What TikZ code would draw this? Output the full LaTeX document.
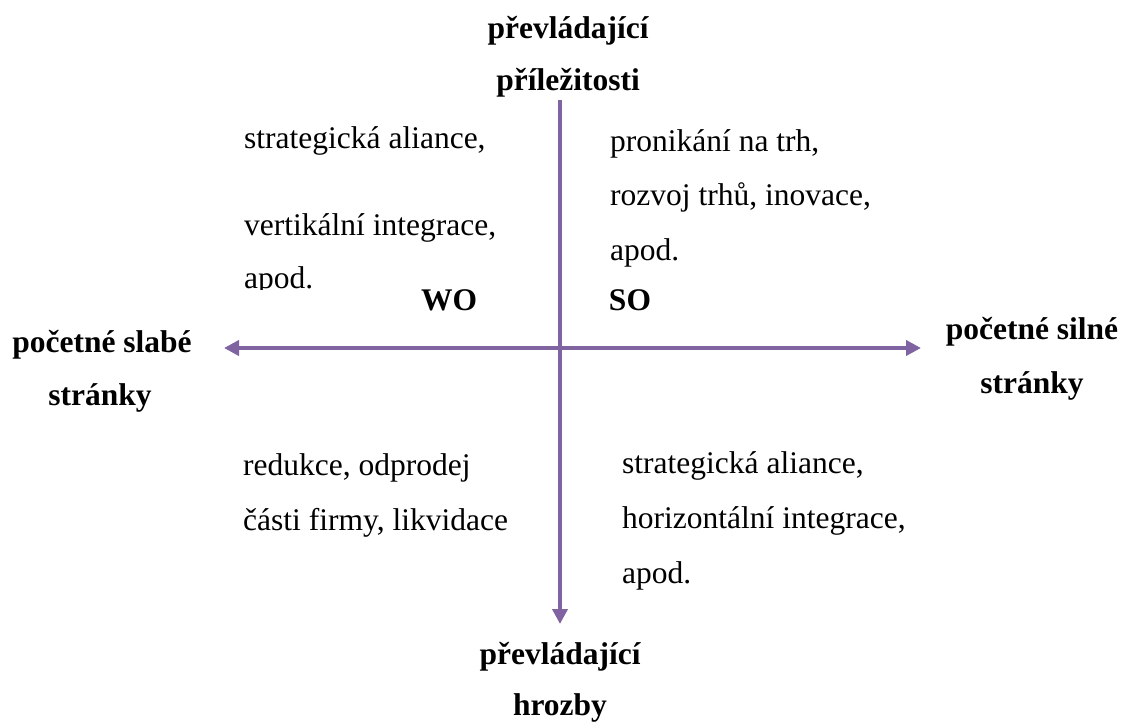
\documentclass[tikz,border=0pt]{standalone}
\usepackage{fontspec}
\setmainfont{Liberation Serif}
\usetikzlibrary{arrows.meta}
\definecolor{axispurple}{RGB}{128,100,162}
\begin{document}
\begin{tikzpicture}[x=1pt,y=-1pt,
  txt/.style={inner sep=0pt,anchor=base west,font=\fontsize{31.5}{36}\selectfont},
  lbl/.style={inner sep=0pt,anchor=base,font=\fontsize{31.5}{36}\selectfont\bfseries},
  axis/.style={draw=axispurple,line width=4.5pt,-{Triangle[length=15pt,width=15pt]}}]
\useasboundingbox (0,0) rectangle (1129,722);
% axes
\coordinate (top) at (560,100);
\coordinate (bottom) at (560,624);
\coordinate (left) at (224,348);
\coordinate (right) at (921,348);
\coordinate (mid) at (560,348);
\draw[axis] (top) -- (bottom);
\draw[axis] (mid) -- (left);
\draw[axis] (mid) -- (right);
% axis labels
\node[lbl] (t1) at (568,39) {převládající};
\node[lbl] (t2) at (568,91) {příležitosti};
\node[lbl] (b1) at (560,664) {převládající};
\node[lbl] (b2) at (560,715) {hrozby};
\node[lbl] (l1) at (102,352) {početné slabé};
\node[lbl] (l2) at (100,405) {stránky};
\node[lbl] (r1) at (1032,339) {početné silné};
\node[lbl] (r2) at (1032,393) {stránky};
\node[lbl] (wo) at (449,310) {WO};
\node[lbl] (so) at (630,310) {SO};
% quadrant texts
\node[txt] (wo1) at (244,149) {strategická aliance,};
\node[txt] (wo2) at (244,235) {vertikální integrace,};
\begin{scope}
\clip (230,250) rectangle (420,289);
\node[txt] (wo3) at (244,288) {apod.};
\end{scope}
\node[txt] (so1) at (610,152) {pronikání na trh,};
\node[txt] (so2) at (610,206) {rozvoj trhů, inovace,};
\node[txt] (so3) at (610,260) {apod.};
\node[txt] (wt1) at (243,475) {redukce, odprodej};
\node[txt] (wt2) at (243,530) {části firmy, likvidace};
\node[txt] (st1) at (622,473) {strategická aliance,};
\node[txt] (st2) at (622,528) {horizontální integrace,};
\node[txt] (st3) at (622,583) {apod.};
\end{tikzpicture}
\end{document}
